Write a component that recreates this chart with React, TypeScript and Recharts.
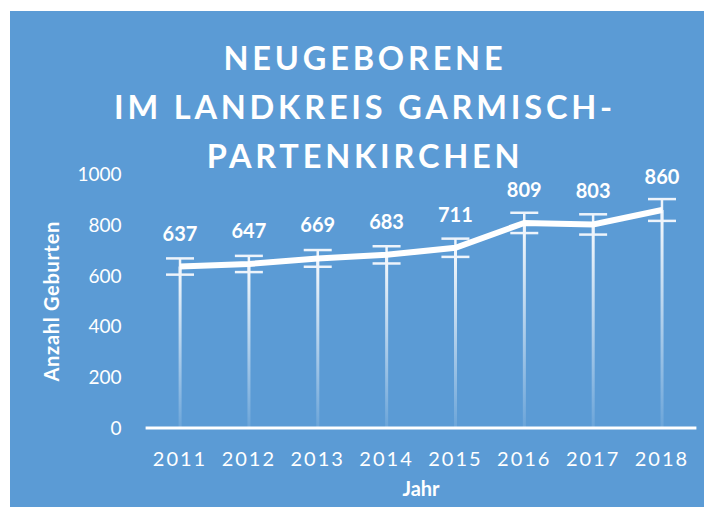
import React from "react";
import {
  ComposedChart,
  Line,
  Bar,
  XAxis,
  YAxis,
  ErrorBar,
  LabelList,
} from "recharts";

const YEARS = ["2011", "2012", "2013", "2014", "2015", "2016", "2017", "2018"];
const BIRTHS = [637, 647, 669, 683, 711, 809, 803, 860];
const ERRORS = [32, 32, 33, 34, 36, 40, 40, 43];
const Y_TICKS = [0, 200, 400, 600, 800, 1000];

const TITLE_LINES = ["NEUGEBORENE", "IM LANDKREIS GARMISCH-", "PARTENKIRCHEN"];

const BG = "#5b9bd5";
const FONT = "Lato, 'Open Sans', sans-serif";

const data = YEARS.map((year, i) => ({
  year,
  value: BIRTHS[i],
  err: ERRORS[i],
}));

export default function App() {
  return (
    <div style={{ width: 704, height: 499, fontFamily: FONT }}>
      <div
        style={{
          position: "relative",
          marginLeft: 2,
          marginTop: 3,
          width: 702,
          height: 496,
          background: BG,
        }}
      >
        <div
          style={{
            position: "absolute",
            top: 22,
            left: 4,
            width: 702,
            textAlign: "center",
            color: "#fff",
            fontWeight: 700,
            fontSize: 32.5,
            lineHeight: "49px",
            letterSpacing: 3.8,
          }}
        >
          {TITLE_LINES.map((t) => (
            <div key={t}>{t}</div>
          ))}
        </div>
        <ComposedChart
          width={702}
          height={496}
          data={data}
          margin={{ top: 163.5, right: 15.6, left: 0, bottom: 29 }}
          style={{ position: "absolute", top: 0, left: 0 }}
        >
          <defs>
            <linearGradient id="drop" x1="0" y1="0" x2="0" y2="1">
              <stop offset="0%" stopColor="#ffffff" stopOpacity={0.95} />
              <stop offset="100%" stopColor="#ffffff" stopOpacity={0.1} />
            </linearGradient>
          </defs>
          <XAxis
            dataKey="year"
            height={50}
            axisLine={{ stroke: "#fff", strokeWidth: 3 }}
            tickLine={false}
            tickSize={0}
            tickMargin={24}
            tick={{ fill: "#fff", fontSize: 20, letterSpacing: 2, fontFamily: FONT }}
            label={{
              value: "Jahr",
              position: "bottom",
              offset: 4,
              fill: "#fff",
              fontWeight: 700,
              fontSize: 20,
              fontFamily: FONT,
            }}
          />
          <YAxis
            width={135.6}
            domain={[0, 1000]}
            ticks={Y_TICKS}
            axisLine={false}
            tickLine={false}
            tickSize={0}
            tickMargin={24}
            tick={{ fill: "#fff", fontSize: 19, fontFamily: FONT }}
            label={{
              value: "Anzahl Geburten",
              angle: -90,
              position: "insideLeft",
              offset: 42,
              fill: "#fff",
              fontWeight: 700,
              fontSize: 20,
              letterSpacing: 0.7,
              fontFamily: FONT,
              style: { textAnchor: "middle" },
            }}
          />
          <Bar
            dataKey="value"
            barSize={3}
            fill="url(#drop)"
            isAnimationActive={false}
          />
          <Line
            dataKey="value"
            stroke="#fff"
            strokeWidth={6}
            dot={false}
            activeDot={false}
            isAnimationActive={false}
          >
            <ErrorBar
              dataKey="err"
              width={14}
              stroke="#eef4fb"
              strokeWidth={2.5}
              direction="y"
              isAnimationActive={false}
            />
            <LabelList
              dataKey="value"
              position="top"
              offset={26}
              fill="#fff"
              fontWeight={700}
              fontSize={20}
              fontFamily={FONT}
            />
          </Line>
        </ComposedChart>
      </div>
    </div>
  );
}
